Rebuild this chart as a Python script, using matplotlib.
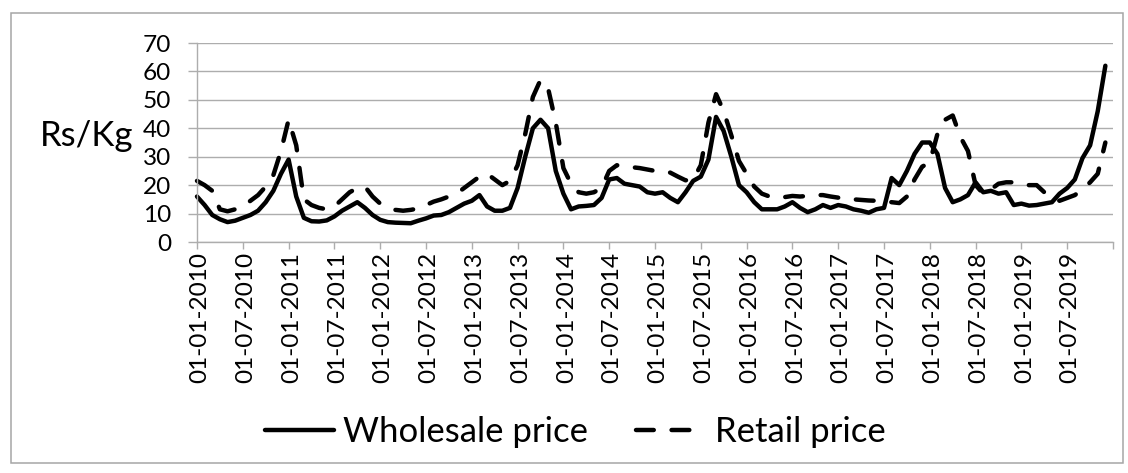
import matplotlib
matplotlib.use("Agg")
import matplotlib.pyplot as plt
from matplotlib.patches import Rectangle
from matplotlib.transforms import ScaledTranslation
import pandas as pd

plt.rcParams["font.family"] = ["Lato", "DejaVu Sans"]

# Monthly series, Jan 2010 - Dec 2019 (Rs/Kg)
months = pd.date_range("2010-01-01", periods=120, freq="MS")

wholesale = [
    16, 13, 9.5, 8, 7, 7.5, 8.5, 9.5, 11, 14, 18, 24,                # 2010
    29, 16, 8.5, 7.3, 7.2, 7.6, 9, 11, 12.5, 14, 12, 9.5,            # 2011
    7.8, 7, 6.8, 6.7, 6.6, 7.5, 8.3, 9.3, 9.5, 10.5, 12, 13.5,       # 2012
    14.5, 16.5, 12.5, 11, 11, 12, 19, 30, 40, 43, 40, 25,            # 2013
    17, 11.5, 12.5, 12.7, 13, 15.5, 22, 22.5, 20.5, 20, 19.5, 17.5,  # 2014
    17, 17.5, 15.5, 14, 17.5, 21.5, 23, 29, 44, 39, 30, 20,          # 2015
    17.5, 14, 11.5, 11.5, 11.5, 12.5, 14, 12, 10.5, 11.5, 13, 12,    # 2016
    13, 12.5, 11.5, 11, 10.3, 11.5, 12, 22.5, 20, 25, 31, 35,        # 2017
    35, 31, 19, 14, 15, 16.5, 21, 17.5, 18, 17, 17.5, 13,            # 2018
    13.5, 12.8, 13, 13.5, 14, 17, 19, 22, 29.5, 34, 46, 62,          # 2019
]

retail = [
    21.5, 20, 18, 11.5, 10.8, 11.5, 12.5, 14.5, 16.5, 19.5, 23.5, 32,   # 2010
    43, 34, 15, 13, 12, 11.5, 12.5, 15, 17.5, 19, 19.5, 16,             # 2011
    13.5, 12.3, 11.3, 11, 11.3, 11.8, 13, 14.2, 15, 16, 17, 19,         # 2012
    21, 23, 24, 22, 20, 21.5, 27, 38, 51, 57, 54, 42,                   # 2013
    26, 20.5, 17.5, 17, 17.5, 19, 25, 27, 26.7, 26.3, 26, 25.5,         # 2014
    25, 24.8, 24.4, 23, 21.7, 22, 27, 42, 52, 46, 37.5, 28.5,           # 2015
    24, 19.5, 17, 16, 15.5, 15.8, 16.2, 16, 16.2, 16.5, 16.5, 16,       # 2016
    15.6, 15.3, 15, 14.8, 14.6, 14.5, 14.3, 14, 13.7, 16, 22, 26.5,     # 2017
    28, 38, 43, 44.5, 37, 32, 20, 17, 18.5, 20.5, 21, 21,               # 2018
    20.5, 20, 20, 17.5, 15.5, 14.5, 15.5, 16.5, 18.5, 21, 24, 35,       # 2019
]

tick_step = 6
tick_labels = [d.strftime("%d-%m-%Y") for d in months[::tick_step]]

GRID = "#ADADAD"
W, H = 1128, 473

fig = plt.figure(figsize=(W / 100, H / 100), dpi=100)
ax = fig.add_axes([197 / W, 1 - 242 / H, (1113 - 197) / W, (242 - 43) / H])

x = list(range(len(months)))
ax.plot(x, wholesale, color="black", lw=3.2, solid_capstyle="round",
        solid_joinstyle="round", label="Wholesale price", clip_on=False)
ax.plot(x, retail, color="black", lw=3.2, dashes=(4, 4), dash_capstyle="round",
        dash_joinstyle="round", label="Retail price", clip_on=False)

ax.set_xlim(0, len(months))
ax.set_ylim(0, 70)
ax.set_yticks(range(0, 71, 10))
ax.set_xticks(list(range(0, len(months) + 1, tick_step)))
ax.set_xticklabels(tick_labels + [""], rotation=90, fontsize=17.6)
ax.tick_params(axis="y", labelsize=17.6, length=6.5, width=1, color=GRID, pad=12)
ax.tick_params(axis="x", length=5, width=1, color=GRID, pad=2)

# rotated date labels sit a little right of their ticks
shift = ScaledTranslation(3 / 100, 0, fig.dpi_scale_trans)
for lbl in ax.get_xticklabels():
    lbl.set_transform(lbl.get_transform() + shift)

ax.set_axisbelow(True)
ax.grid(axis="y", color=GRID, lw=1.0)
for side in ("top", "right"):
    ax.spines[side].set_visible(False)
for side in ("left", "bottom"):
    ax.spines[side].set_color(GRID)
    ax.spines[side].set_linewidth(1.0)

fig.text(87 / W, 1 - 136 / H, "Rs/Kg", fontsize=25, ha="center", va="center")

fig.legend(loc="center", bbox_to_anchor=(575 / W, 1 - 432 / H), ncol=2,
           frameon=False, fontsize=25, handlelength=2.0, handletextpad=0.25,
           columnspacing=1.4)

# chart area outline
fig.add_artist(Rectangle((11 / W, 1 - 463 / H), (1123 - 11) / W, (463 - 13) / H,
                         transform=fig.transFigure, fill=False,
                         edgecolor="#A6A6A6", lw=1.1))

fig.savefig("out.png", dpi=100)
